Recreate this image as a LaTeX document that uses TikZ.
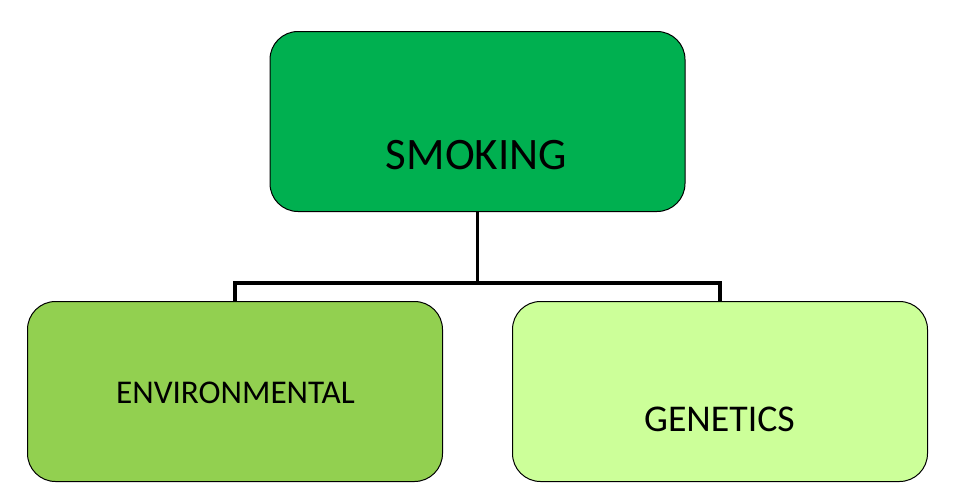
\documentclass[tikz,border=0pt]{standalone}
\usepackage{fontspec}
\setmainfont{Carlito}
\definecolor{topgreen}{HTML}{00B050}
\definecolor{midgreen}{HTML}{92D050}
\definecolor{lightgreen}{HTML}{CCFF99}
\begin{document}
\begin{tikzpicture}[x=1pt,y=-1pt,
  boxstyle/.style={draw=black,line width=1pt,rounded corners=28pt,minimum width=415pt,minimum height=180pt,inner sep=0pt,anchor=north west},
  lbl/.style={anchor=base,inner sep=0pt,text=black},
  conn/.style={line width=3.5pt}]
\useasboundingbox (0,0) rectangle (954,501);
\node[boxstyle,fill=topgreen] (top) at (269.5,31) {};
\node[boxstyle,fill=midgreen] (left) at (27,301) {};
\node[boxstyle,fill=lightgreen] (right) at (512,301) {};
\node[lbl,font=\fontsize{45}{52}\selectfont] (t1) at (476.5,169) {SMOKING};
\node[lbl,font=\fontsize{33.2}{39}\selectfont] (t2) at (235.5,403) {ENVIRONMENTAL};
\node[lbl,font=\fontsize{37.8}{44}\selectfont] (t3) at (719.5,431) {GENETICS};
\coordinate (hub) at ([yshift=-71pt]top.south);
\draw[conn] (top.south) -- (hub);
\draw[conn] (hub) -| (left.north);
\draw[conn] (hub) -| (right.north);
\end{tikzpicture}
\end{document}
